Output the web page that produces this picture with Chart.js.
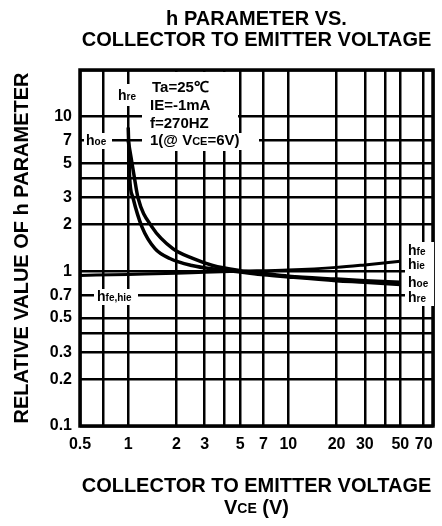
<!DOCTYPE html>
<html>
<head>
<meta charset="utf-8">
<script src="https://cdn.jsdelivr.net/npm/chart.js@4.4.1/dist/chart.umd.min.js"></script>
<style>
  html, body { margin: 0; padding: 0; background: #fff; }
  #wrap { width: 442px; height: 526px; position: relative; }
</style>
</head>
<body>
<div id="wrap"><canvas id="hChart" width="442" height="526"></canvas></div>
<script>
// h parameter vs. collector to emitter voltage
const xTicks  = [0.5, 0.7, 1, 2, 3, 4, 5, 7, 10, 20, 30, 40, 50, 70, 80];
const xLabels = [0.5, 1, 2, 3, 5, 7, 10, 20, 30, 50, 70];
const yTicks  = [0.1, 0.2, 0.3, 0.4, 0.5, 0.7, 1, 2, 3, 4, 5, 7, 10, 20];
const yLabels = [0.1, 0.2, 0.3, 0.5, 0.7, 1, 2, 3, 5, 7, 10];

const hfeVce = [0.5, 1, 2, 3, 5, 10, 20, 30, 50];
const hfeVal = [0.94, 0.955, 0.97, 0.985, 1.0, 1.02, 1.06, 1.1, 1.16];

const hreVce = [1.0, 1.01, 1.02, 1.07, 1.22, 1.47, 1.82, 2.5, 3.5, 5, 7, 10, 20, 30, 50];
const hreVal = [8.5, 6.0, 4.1, 3.0, 1.93, 1.40, 1.21, 1.09, 1.03, 0.99, 0.95, 0.92, 0.87, 0.85, 0.82];

const hoeVce = [1.0, 1.04, 1.09, 1.15, 1.41, 1.9, 2.53, 3.37, 5, 7, 10, 20, 30, 50];
const hoeVal = [7.0, 5.5, 4.1, 3.0, 1.93, 1.40, 1.21, 1.09, 1.01, 0.97, 0.93, 0.89, 0.87, 0.85];

const FONT = '"Liberation Sans", Arial, Helvetica, sans-serif';
const pts = (xs, ys) => xs.map((x, i) => ({ x: x, y: ys[i] }));

// draws "h" + smaller subscript letters
function hLabel(ctx, text, sub, x, y, size, subSize) {
  ctx.font = 'bold ' + size + 'px ' + FONT;
  ctx.fillText(text, x, y);
  const w = ctx.measureText(text).width;
  ctx.font = 'bold ' + subSize + 'px ' + FONT;
  ctx.fillText(sub, x + w, y + 1);
}

function whiteBox(ctx, x, y, w, h) {
  ctx.fillStyle = '#fff';
  ctx.fillRect(x, y, w, h);
  ctx.fillStyle = '#000';
}

const labelsPlugin = {
  id: 'labels',
  beforeDatasetsDraw(chart) {
    const ctx = chart.ctx;
    const area = chart.chartArea;
    ctx.save();
    ctx.textBaseline = 'middle';
    ctx.textAlign = 'left';
    ctx.fillStyle = '#000';

    // frame
    ctx.strokeStyle = '#000';
    ctx.lineWidth = 3.5;
    ctx.strokeRect(area.left, area.top, area.right - area.left, area.bottom - area.top);

    // condition block
    whiteBox(ctx, 142, 72, 96, 79);
    ctx.font = 'bold 15px ' + FONT;
    ctx.fillText('Ta=25\u2103', 152, 88);
    ctx.fillText('IE=-1mA', 150, 106);
    ctx.fillText('f=270HZ', 150, 124);
    whiteBox(ctx, 147, 133, 112, 17);
    let x = 150;
    ctx.font = 'bold 15px ' + FONT;
    ctx.fillText('1(@ V', x, 141);
    x += ctx.measureText('1(@ V').width;
    ctx.font = 'bold 11px ' + FONT;
    ctx.fillText('CE', x, 142);
    x += ctx.measureText('CE').width;
    ctx.font = 'bold 15px ' + FONT;
    ctx.fillText('=6V)', x, 141);

    // curve labels
    whiteBox(ctx, 114, 84, 26, 22);
    hLabel(ctx, 'h', 're', 118, 96, 14, 10);
    whiteBox(ctx, 84, 133, 28, 16);
    hLabel(ctx, 'h', 'oe', 86, 141, 14, 10);
    whiteBox(ctx, 94, 289, 44, 16);
    hLabel(ctx, 'h', 'fe,hie', 97, 297, 14, 10);

    whiteBox(ctx, 405, 242, 29, 64);
    hLabel(ctx, 'h', 'fe', 408, 251, 14, 10);
    hLabel(ctx, 'h', 'ie', 408, 265, 14, 10);
    hLabel(ctx, 'h', 'oe', 408, 283, 14, 10);
    hLabel(ctx, 'h', 're', 408, 298, 14, 10);

    // second line of the x title: VCE (V)
    const parts = [['V', 20], ['CE', 14], [' (V)', 20]];
    let total = 0;
    parts.forEach(p => { ctx.font = 'bold ' + p[1] + 'px ' + FONT; total += ctx.measureText(p[0]).width; });
    x = (area.left + area.right) / 2 - total / 2;
    parts.forEach(p => {
      ctx.font = 'bold ' + p[1] + 'px ' + FONT;
      ctx.fillText(p[0], x, p[1] === 20 ? 508 : 509);
      x += ctx.measureText(p[0]).width;
    });
    ctx.restore();
  }
};

new Chart(document.getElementById('hChart'), {
  type: 'line',
  data: {
    datasets: [
      { label: 'hfe,hie', data: pts(hfeVce, hfeVal), borderColor: '#000', borderWidth: 3, pointRadius: 0, cubicInterpolationMode: 'monotone', fill: false },
      { label: 'hre', data: pts(hreVce, hreVal), borderColor: '#000', borderWidth: 3.5, pointRadius: 0, cubicInterpolationMode: 'monotone', fill: false },
      { label: 'hoe', data: pts(hoeVce, hoeVal), borderColor: '#000', borderWidth: 3.5, pointRadius: 0, cubicInterpolationMode: 'monotone', fill: false },
    ],
  },
  options: {
    responsive: false,
    animation: false,
    layout: { padding: { right: 5 } },
    plugins: {
      legend: { display: false },
      tooltip: { enabled: false },
      title: {
        display: true,
        fullSize: false,
        text: ['h PARAMETER VS.', 'COLLECTOR TO EMITTER VOLTAGE'],
        color: '#000',
        font: { family: FONT, size: 20, weight: 'bold', lineHeight: 1.05 },
        padding: { top: 9, bottom: 19 },
      },
    },
    scales: {
      x: {
        type: 'logarithmic',
        min: 0.5, max: 80,
        afterBuildTicks: (s) => { s.ticks = xTicks.map(v => ({ value: v })); },
        afterFit: (s) => { s.height = 100; },
        ticks: {
          autoSkip: false, maxRotation: 0, padding: 9, color: '#000',
          font: { family: FONT, size: 16, weight: 'bold' },
          callback: (v) => xLabels.includes(v) ? String(v) : '',
        },
        grid: { color: '#000', lineWidth: 2.5, drawTicks: false },
        border: { display: false },
        title: {
          display: true, text: 'COLLECTOR TO EMITTER VOLTAGE', color: '#000',
          font: { family: FONT, size: 20, weight: 'bold', lineHeight: 1 },
          padding: { top: 0, bottom: 30 },
        },
      },
      y: {
        type: 'logarithmic',
        min: 0.1, max: 20,
        afterBuildTicks: (s) => { s.ticks = yTicks.map(v => ({ value: v })); },
        afterFit: (s) => { s.width = 80; },
        ticks: {
          autoSkip: false, padding: 8, color: '#000',
          font: { family: FONT, size: 16, weight: 'bold' },
          callback: (v) => yLabels.includes(v) ? String(v) : '',
        },
        grid: { color: '#000', lineWidth: 2.5, drawTicks: false },
        border: { display: false },
        title: {
          display: true, text: 'RELATIVE VALUE OF h PARAMETER', color: '#000',
          font: { family: FONT, size: 20, weight: 'bold', lineHeight: 1 },
          padding: { top: 12, bottom: 0 },
        },
      },
    },
  },
  plugins: [labelsPlugin],
});
</script>
</body>
</html>
